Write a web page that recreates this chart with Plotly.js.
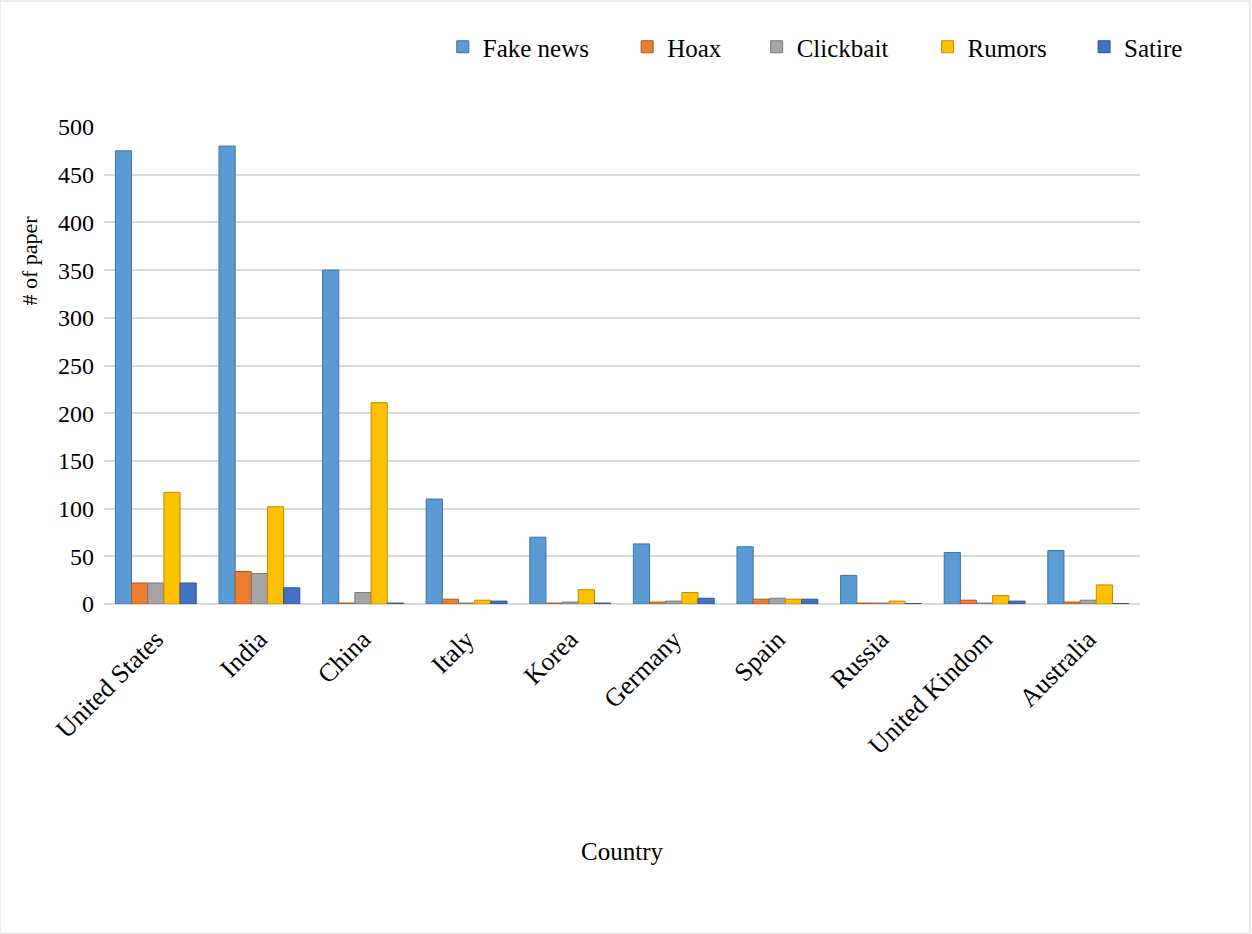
<!DOCTYPE html>
<html>
<head>
<meta charset="utf-8">
<script src="https://cdn.plot.ly/plotly-3.0.1.min.js"></script>
<style>html,body{margin:0;padding:0;background:#fff;}#chart{width:1252px;height:934px;}</style>
</head>
<body>
<div id="chart"></div>
<script>
const countries = ["United States","India","China","Italy","Korea","Germany","Spain","Russia","United Kindom","Australia"];
const fakeNews = [475, 480, 350, 110, 70, 63, 60, 30, 54, 56];
const hoax     = [22, 34, 1, 5, 1, 2, 5, 1, 4, 2];
const clickbait= [22, 32, 12, 1, 2, 3, 6, 1, 1, 4];
const rumors   = [117, 102, 211, 4, 15, 12, 5, 3, 9, 20];
const satire   = [22, 17, 1, 3, 1, 6, 5, 0.5, 3, 0.5];

const seriesNames = ["Fake news","Hoax","Clickbait","Rumors","Satire"];
const seriesValues = [fakeNews, hoax, clickbait, rumors, satire];
const colors = ["#5B9BD5","#ED7D31","#A5A5A5","#FFC000","#4472C4"];
const lineColors = ["#41719C","#AE5A21","#787878","#BC8C00","#2F528F"];
const legendIds = ["legend","legend2","legend3","legend4","legend5"];
// legend anchor positions (fraction of plot width), one legend per series
const legendX = [0.327, 0.505, 0.630, 0.795, 0.946];

const traces = seriesNames.map((n,i)=>({
  type:"bar", name:n, x:countries, y:seriesValues[i], legend:legendIds[i],
  marker:{color:colors[i], line:{color:lineColors[i], width:1}}
}));

const font = "Liberation Serif, Times New Roman, serif";
const layout = {
  width:1252, height:934,
  margin:{l:104, r:112, t:127, b:330},
  paper_bgcolor:"#fff", plot_bgcolor:"#fff",
  font:{family:font, size:25, color:"#000"},
  barmode:"group", bargap:0.22, bargroupgap:0,
  showlegend:true,
  xaxis:{tickangle:-45, showgrid:false, zeroline:false, showline:false, ticks:"",
         tickfont:{family:font, size:26}, ticklabelstandoff:14,
         title:{text:"Country", font:{family:font, size:25}, standoff:83}},
  yaxis:{range:[0,500], dtick:50, showgrid:true, gridcolor:"#D9D9D9", gridwidth:2,
         zeroline:true, zerolinecolor:"#D9D9D9", zerolinewidth:2, showline:false,
         ticks:"", tickfont:{family:font, size:24}, ticklabelstandoff:9},
  annotations:[{text:"# of paper", xref:"paper", yref:"paper", x:-0.0714, y:0.72, xanchor:"center", yanchor:"middle",
                textangle:-90, showarrow:false, font:{family:font, size:22, color:"#000"}}],
  shapes:[{type:"rect", xref:"paper", yref:"paper", x0:-0.1004, x1:1.106, y0:-0.69, y1:1.264,
           line:{color:"#D9D9D9", width:1}, fillcolor:"rgba(0,0,0,0)", layer:"below"}]
};
legendIds.forEach((id,i)=>{
  layout[id] = {orientation:"h", x:legendX[i], xanchor:"left", xref:"paper",
                y:1-47/934, yanchor:"middle", yref:"container",
                font:{family:font, size:25, color:"#000"}, itemwidth:30,
                bgcolor:"rgba(0,0,0,0)", borderwidth:0};
});
Plotly.newPlot("chart", traces, layout, {displayModeBar:false, staticPlot:true});
</script>
</body>
</html>
